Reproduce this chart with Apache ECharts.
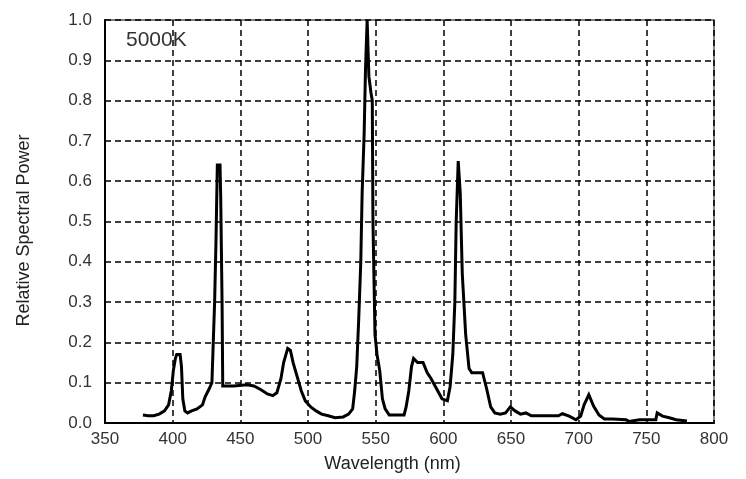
<!DOCTYPE html>
<html>
<head>
<meta charset="utf-8">
<script src="https://cdn.jsdelivr.net/npm/echarts@6/dist/echarts.min.js"></script>
<style>
  html, body { margin: 0; padding: 0; background: #fff; }
  #chart { width: 746px; height: 479px; }
</style>
</head>
<body>
<div id="chart"></div>
<script>
// spectrum (nm, relative power)
const wavelengths = [
  378, 382, 386, 390, 394, 397, 399, 400.5, 402, 403, 405.5, 406.5, 407.5, 409, 411, 414, 418, 422, 424, 427,
  429, 430, 431, 432, 433, 435, 435.5, 436.5, 437, 445, 455, 460, 465, 470, 474, 477, 480, 482, 485, 487,
  489, 492, 495, 498, 502, 506, 510, 515, 520, 526, 530, 533, 534.5, 536, 537.5, 539, 540, 541.5, 542.5, 543.7,
  544.5, 545, 546.5, 547.5, 548, 549.5, 551, 553, 555, 557, 560, 565, 571, 572.5, 574.5, 576.5, 578, 581, 585, 588,
  591, 595, 599, 603, 605, 607, 608.5, 609.5, 611, 612.5, 614, 616.5, 619, 621, 629, 632, 635, 638, 642, 646,
  649.5, 653, 657, 661, 665, 675, 685, 688, 693, 698, 701.5, 704, 707.5, 711, 715, 719, 725, 735, 737, 745,
  757, 758, 762, 767, 772, 780
];
const power = [
  0.02, 0.018, 0.018, 0.022, 0.03, 0.045, 0.08, 0.13, 0.16, 0.17, 0.17, 0.14, 0.06, 0.03, 0.025, 0.03, 0.035, 0.045, 0.065, 0.085,
  0.1, 0.2, 0.3, 0.45, 0.64, 0.64, 0.56, 0.3, 0.092, 0.092, 0.095, 0.092, 0.083, 0.072, 0.068, 0.075, 0.11, 0.15, 0.185, 0.18,
  0.15, 0.115, 0.08, 0.055, 0.04, 0.03, 0.022, 0.018, 0.013, 0.015, 0.022, 0.035, 0.08, 0.14, 0.26, 0.4, 0.57, 0.72, 0.88, 1.0,
  1.0, 0.86, 0.82, 0.8, 0.5, 0.22, 0.17, 0.13, 0.06, 0.035, 0.02, 0.02, 0.02, 0.04, 0.08, 0.14, 0.16, 0.15, 0.15, 0.125,
  0.11, 0.085, 0.06, 0.055, 0.09, 0.17, 0.3, 0.5, 0.65, 0.57, 0.37, 0.22, 0.135, 0.125, 0.125, 0.085, 0.04, 0.025, 0.022, 0.025,
  0.04, 0.03, 0.022, 0.025, 0.018, 0.018, 0.018, 0.023, 0.017, 0.008, 0.017, 0.045, 0.07, 0.042, 0.02, 0.01, 0.01, 0.008, 0.004, 0.008,
  0.008, 0.025, 0.017, 0.013, 0.008, 0.005
];
const xTicks = [350, 400, 450, 500, 550, 600, 650, 700, 750, 800];
const yTicks = [0, 0.1, 0.2, 0.3, 0.4, 0.5, 0.6, 0.7, 0.8, 0.9, 1.0];
const label = '5000K';

const chart = echarts.init(document.getElementById('chart'));
const font = '"Liberation Sans", Arial, sans-serif';
const gridDash = {
  show: true,
  lineStyle: { color: '#000', width: 1.5, type: [6, 4] }
};

chart.setOption({
  animation: false,
  backgroundColor: '#fff',
  grid: {
    left: 105, right: 32, top: 20, bottom: 56,
    show: true,
    borderColor: '#555',
    borderWidth: 1.5
  },
  graphic: [{
    type: 'text',
    left: 126, top: 30,
    style: { text: label, fontFamily: font, fontSize: 21, fill: '#333' }
  }],
  xAxis: {
    type: 'value',
    min: xTicks[0],
    max: xTicks[xTicks.length - 1],
    interval: 50,
    name: 'Wavelength (nm)',
    nameLocation: 'middle',
    nameGap: 32,
    nameTextStyle: { fontFamily: font, fontSize: 18, color: '#222', padding: [0, 34, 0, 0] },
    axisLine: { lineStyle: { color: '#000', width: 2 } },
    axisTick: { show: false },
    axisLabel: { fontFamily: font, fontSize: 17, color: '#333', margin: 8 },
    splitLine: gridDash
  },
  yAxis: {
    type: 'value',
    min: yTicks[0],
    max: yTicks[yTicks.length - 1],
    interval: 0.1,
    name: 'Relative Spectral Power',
    nameLocation: 'middle',
    nameGap: 72,
    nameTextStyle: { fontFamily: font, fontSize: 18, color: '#222', padding: [0, 18, 0, 0] },
    axisLine: { show: true, lineStyle: { color: '#000', width: 2 } },
    axisTick: { show: false },
    axisLabel: {
      fontFamily: font, fontSize: 17, color: '#333', margin: 13,
      formatter: v => v.toFixed(1)
    },
    splitLine: gridDash
  },
  series: [{
    type: 'line',
    data: wavelengths.map((w, i) => [w, power[i]]),
    symbol: 'none',
    clip: true,
    lineStyle: { color: '#000', width: 3, join: 'miter' }
  }]
});
</script>
</body>
</html>
